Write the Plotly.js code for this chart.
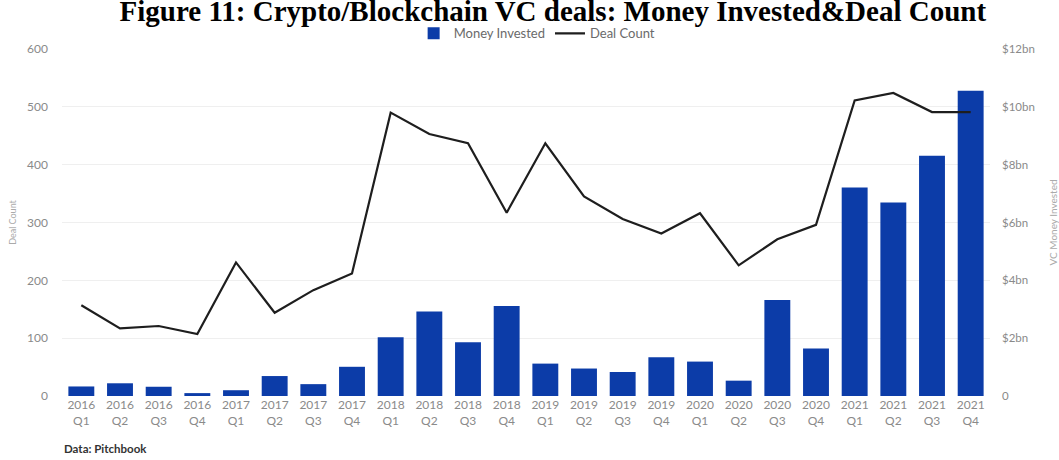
<!DOCTYPE html>
<html>
<head>
<meta charset="utf-8">
<script src="https://cdn.plot.ly/plotly-3.0.1.min.js"></script>
<style>html,body{margin:0;padding:0;background:#fff;}#chart{width:1059px;height:460px;}</style>
</head>
<body>
<div id="chart"></div>
<script>
const quarters = ["2016<br>Q1","2016<br>Q2","2016<br>Q3","2016<br>Q4",
  "2017<br>Q1","2017<br>Q2","2017<br>Q3","2017<br>Q4",
  "2018<br>Q1","2018<br>Q2","2018<br>Q3","2018<br>Q4",
  "2019<br>Q1","2019<br>Q2","2019<br>Q3","2019<br>Q4",
  "2020<br>Q1","2020<br>Q2","2020<br>Q3","2020<br>Q4",
  "2021<br>Q1","2021<br>Q2","2021<br>Q3","2021<br>Q4"];
// VC money invested, $bn
const moneyInvested = [0.33,0.44,0.32,0.10,0.20,0.69,0.41,1.01,
  2.03,2.92,1.86,3.11,1.12,0.95,0.83,1.34,1.19,0.53,3.32,1.64,7.21,6.69,8.31,10.56];
// Deal count
const dealCount = [157,117,121,107,231,144,183,212,
  490,453,437,317,437,345,306,281,316,226,271,296,511,524,491,491];
const moneyTickVals = [0,2,4,6,8,10,12];
const moneyTickText = ["0","$2bn","$4bn","$6bn","$8bn","$10bn","$12bn"];
const dealTickVals = [0,100,200,300,400,500,600];

const tickFont = {family: "Lato, sans-serif", size: 12, color: "#8a8a8a"};

const traces = [
  {type: "bar", name: "Money Invested", x: quarters, y: moneyInvested,
   marker: {color: "#0c3ca8"}, xaxis: "x", yaxis: "y"},
  {type: "scatter", mode: "lines", name: "Deal Count", x: quarters, y: dealCount,
   line: {color: "#1e1e1e", width: 2.2}, xaxis: "x", yaxis: "y2"}
];

const layout = {
  width: 1059, height: 460,
  margin: {l: 62, r: 69, t: 49, b: 64},
  paper_bgcolor: "#fff", plot_bgcolor: "#fff",
  bargap: 0.33,
  showlegend: true,
  legend: {orientation: "h", x: 0.512, xanchor: "center", xref: "paper", y: 1.045, yanchor: "middle",
           font: {family: "Lato, sans-serif", size: 13, color: "#6a6a6a"}, itemwidth: 30, tracegroupgap: 0},
  title: {text: "<b>Figure 11: Crypto/Blockchain VC deals: Money Invested&amp;Deal Count</b>",
          font: {family: "Liberation Serif, Times New Roman, serif", size: 29, color: "#000"},
          x: 0.522, xanchor: "center", y: 0.976, yanchor: "middle"},
  xaxis: {type: "category", tickfont: tickFont, showgrid: false, zeroline: false,
          showline: false, ticks: "", automargin: false},
  yaxis: {side: "right", range: [0, 12], tickvals: moneyTickVals, ticktext: moneyTickText,
          tickfont: Object.assign({}, tickFont, {size: 11.5}), showgrid: true, gridcolor: "#efefef", gridwidth: 1,
          zeroline: false, ticks: "", ticklabelstandoff: 11, automargin: false,
          title: {text: "VC Money Invested", font: {family: "Lato, sans-serif", size: 10, color: "#aaaaaa"}, standoff: 16}},
  yaxis2: {overlaying: "y", side: "left", range: [0, 600], tickvals: dealTickVals,
          tickfont: Object.assign({}, tickFont, {size: 12}), showgrid: false, zeroline: false, ticks: "",
          ticklabelstandoff: 13, automargin: false,
          title: {text: "Deal Count", font: {family: "Lato, sans-serif", size: 9, color: "#aaaaaa"}, standoff: 8}},
  annotations: [
    {text: "<b>Data: Pitchbook</b>", xref: "paper", yref: "paper", x: 0.0, y: -0.15,
     xanchor: "left", yanchor: "middle", showarrow: false,
     font: {family: "Lato, sans-serif", size: 11.5, color: "#333"}}
  ]
};

Plotly.newPlot("chart", traces, layout, {displayModeBar: false, responsive: false});
</script>
</body>
</html>
